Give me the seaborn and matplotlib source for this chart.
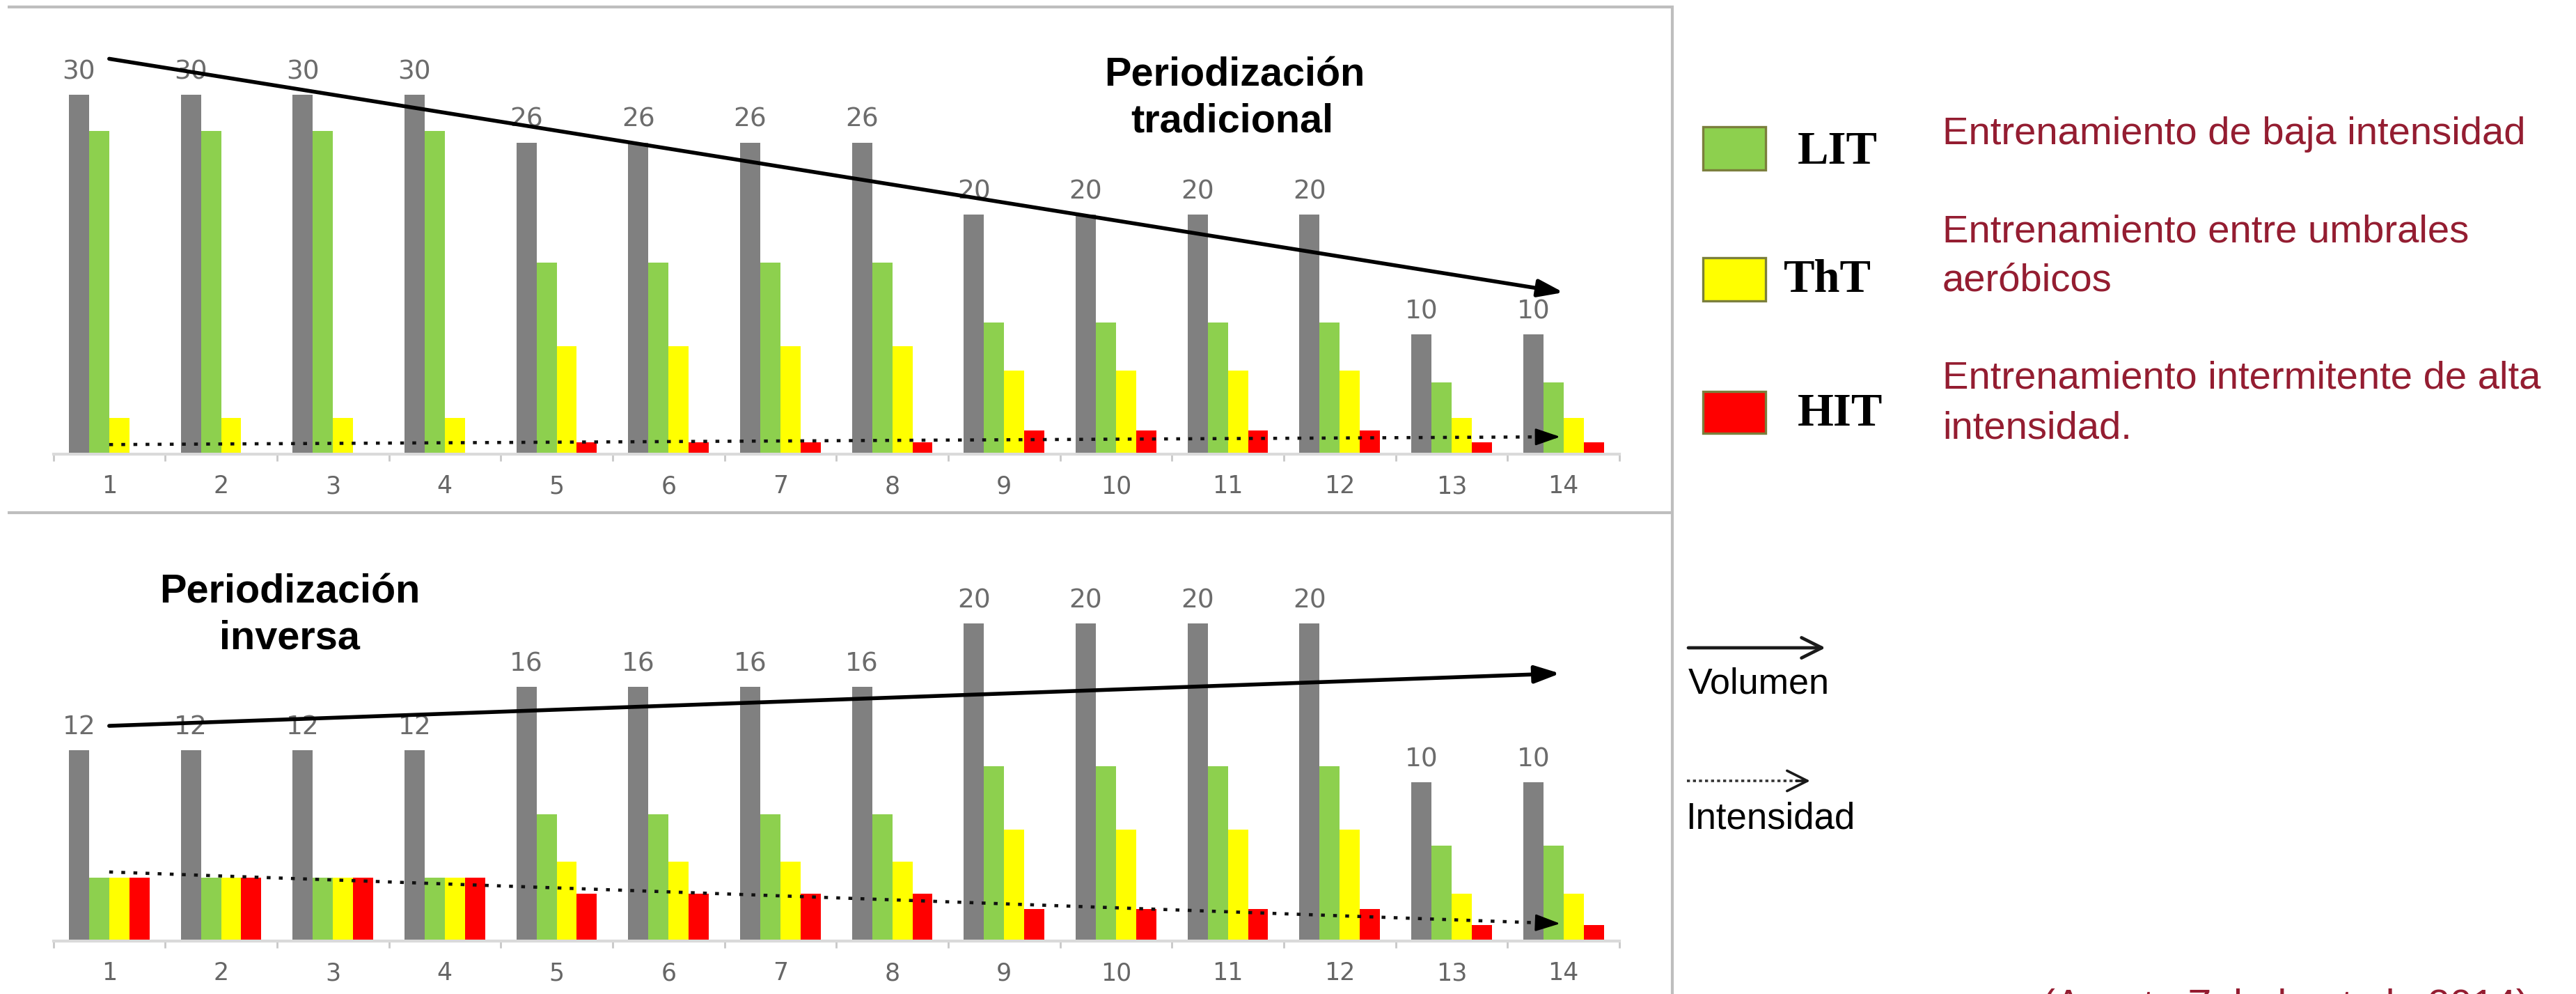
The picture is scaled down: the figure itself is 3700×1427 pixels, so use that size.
import numpy as np
import pandas as pd
import matplotlib
matplotlib.use("Agg")
import matplotlib.pyplot as plt
from matplotlib.patches import Rectangle
import seaborn as sns

# ---------------------------------------------------------------- data
weeks = list(range(1, 15))
series_order = ["Total", "LIT", "ThT", "HIT"]
series_colors = ["#808080", "#8DD04E", "#FFFF00", "#FF0000"]

# Periodización tradicional
trad_total = [30, 30, 30, 30, 26, 26, 26, 26, 20, 20, 20, 20, 10, 10]
trad_lit = [27, 27, 27, 27, 16, 16, 16, 16, 11, 11, 11, 11, 6, 6]
trad_tht = [3, 3, 3, 3, 9, 9, 9, 9, 7, 7, 7, 7, 3, 3]
trad_hit = [0, 0, 0, 0, 1, 1, 1, 1, 2, 2, 2, 2, 1, 1]

# Periodización inversa
inv_total = [12, 12, 12, 12, 16, 16, 16, 16, 20, 20, 20, 20, 10, 10]
inv_lit = [4, 4, 4, 4, 8, 8, 8, 8, 11, 11, 11, 11, 6, 6]
inv_tht = [4, 4, 4, 4, 5, 5, 5, 5, 7, 7, 7, 7, 3, 3]
inv_hit = [4, 4, 4, 4, 3, 3, 3, 3, 2, 2, 2, 2, 1, 1]

# trend arrows: (week index start, value start, week index end, value end)
trad_volume_trend = (0, 33.0, 13, 13.5)
trad_intensity_trend = (0, 0.8, 12.97, 1.45)
inv_volume_trend = (0, 13.55, 12.97, 16.85)
inv_intensity_trend = (0, 4.35, 12.97, 1.1)

legend_codes = ["LIT", "ThT", "HIT"]
legend_texts = [
    ["Entrenamiento de baja intensidad"],
    ["Entrenamiento entre umbrales", "aeróbicos"],
    ["Entrenamiento intermitente de alta", "intensidad."],
]
source_text = "(Acosta Zabala et al., 2014)"

# ---------------------------------------------------------------- style
sns.set_theme(style="white")
plt.rcParams["font.family"] = ["DejaVu Sans"]

W, H = 3700, 1427
fig = plt.figure(figsize=(W / 100, H / 100), dpi=100)
fig.patch.set_facecolor("white")

SANS = "Liberation Sans"
SERIF = "Liberation Serif"
DARK_RED = "#941D31"
LABEL_GRAY = "#6C6C6C"


def px_axes(left, top, right, bottom, **kw):
    return fig.add_axes([left / W, 1 - bottom / H, (right - left) / W, (bottom - top) / H], **kw)


def long_table(total, lit, tht, hit):
    parts = []
    for name, vals in zip(series_order, [total, lit, tht, hit]):
        parts.append(pd.DataFrame({"semana": weeks, "serie": name, "valor": vals}))
    return pd.concat(parts, ignore_index=True)


def draw_trend(ax, spec, dotted):
    x0, y0, x1, y1 = spec
    head = "-|>,head_length=1.1,head_width=0.38"
    if dotted:
        ax.plot([x0, x1], [y0, y1], color="#111111", lw=3.3,
                ls=(0, (1.2, 2.6)), zorder=6, clip_on=False)
        frac = 0.12 / (x1 - x0)
        ax.annotate("", xy=(x1, y1), xytext=(x1 - (x1 - x0) * frac, y1 - (y1 - y0) * frac),
                    arrowprops=dict(arrowstyle=head, color="black", lw=2.0,
                                    mutation_scale=20, shrinkA=0, shrinkB=0),
                    zorder=7, annotation_clip=False)
    else:
        ax.annotate("", xy=(x1, y1), xytext=(x0, y0),
                    arrowprops=dict(arrowstyle=head, color="black", lw=4.0,
                                    mutation_scale=20, shrinkA=0, shrinkB=0),
                    zorder=7, annotation_clip=False)


def draw_panel(ax, table, ymax, vol_trend, int_trend):
    sns.barplot(data=table, x="semana", y="valor", hue="serie",
                hue_order=series_order, palette=series_colors,
                width=0.72, saturation=1, linewidth=0, errorbar=None,
                legend=False, ax=ax)
    ax.set_xlim(-0.5, 13.5)
    ax.set_ylim(0, ymax)
    ax.set_xlabel("")
    ax.set_ylabel("")
    ax.set_yticks([])
    ax.patch.set_alpha(0)
    for side in ("left", "top", "right"):
        ax.spines[side].set_visible(False)
    ax.spines["bottom"].set_color("#DADADA")
    ax.spines["bottom"].set_linewidth(3)
    ax.set_xticks(np.arange(-0.5, 14, 1), minor=True)
    ax.tick_params(axis="x", which="minor", length=7, width=2, color="#C8C8C8",
                   direction="out", bottom=True)
    ax.tick_params(axis="x", which="major", length=0, pad=21,
                   labelsize=25, labelcolor="#666666")
    for lab in ax.get_xticklabels():
        lab.set_fontfamily("DejaVu Sans")

    # volume labels above the grey bars
    vol_bars = max(ax.containers, key=lambda c: sum(p.get_height() for p in c))
    for bar in vol_bars:
        h = bar.get_height()
        ax.annotate(f"{h:.0f}", (bar.get_x() + bar.get_width() / 2, h),
                    xytext=(0, 16.5), textcoords="offset points",
                    ha="center", va="baseline", fontsize=27,
                    color=LABEL_GRAY, family="DejaVu Sans")

    draw_trend(ax, vol_trend, dotted=False)
    draw_trend(ax, int_trend, dotted=True)


# ---------------------------------------------------------------- panels
top_ymax, bot_ymax = 36, 26
ax_top = px_axes(76.5, 652 - top_ymax * 17.2, 2326, 652)
ax_bot = px_axes(76.5, 1351 - bot_ymax * 22.8, 2326, 1351)

draw_panel(ax_top, long_table(trad_total, trad_lit, trad_tht, trad_hit),
           top_ymax, trad_volume_trend, trad_intensity_trend)
draw_panel(ax_bot, long_table(inv_total, inv_lit, inv_tht, inv_hit),
           bot_ymax, inv_volume_trend, inv_intensity_trend)

# ---------------------------------------------------------------- overlay in pixel units
ov = fig.add_axes([0, 0, 1, 1], zorder=10)
ov.set_xlim(0, W)
ov.set_ylim(H, 0)
ov.axis("off")
ov.patch.set_alpha(0)

frame_kw = dict(color="#BEBEBE", lw=3, solid_capstyle="butt")
ov.plot([11, 2404], [10, 10], **frame_kw)
ov.plot([11, 2404], [736, 736], **frame_kw)
ov.plot([2402, 2402], [8, H], **frame_kw)

title_kw = dict(ha="center", va="baseline", fontsize=41.5, fontweight="bold",
                family=SANS, color="black")
ov.text(1773, 124, "Periodización", **title_kw)
ov.text(1770, 190, "tradicional", **title_kw)
ov.text(416, 865, "Periodización", **title_kw)
ov.text(416, 931, "inversa", **title_kw)

# colour key
swatch_boxes = [(182, 62), (370, 62), (562, 60)]
code_pos = [(2582, 235), (2562, 419), (2582, 611)]
text_baselines = [[207], [347, 418], [558, 629]]
for color, (y, h), code, (cx, cy), lines, bases in zip(
        series_colors[1:], swatch_boxes, legend_codes, code_pos, legend_texts, text_baselines):
    ov.add_patch(Rectangle((2446, y), 90, h, facecolor=color,
                           edgecolor="#7B7F3C", lw=2.4))
    ov.text(cx, cy, code, ha="left", va="baseline", fontsize=48,
            fontweight="bold", family=SERIF, color="black")
    for line, b in zip(lines, bases):
        ov.text(2790, b, line, ha="left", va="baseline", fontsize=40.5,
                family=SANS, color=DARK_RED)

# line key
ov.annotate("", xy=(2622, 930), xytext=(2425, 930),
            arrowprops=dict(arrowstyle="->,head_length=0.7,head_width=0.35",
                            color="#1A1A1A", lw=3.4, mutation_scale=30,
                            shrinkA=0, shrinkB=0))
ov.text(2425, 996, "Volumen", ha="left", va="baseline", fontsize=37.5,
        family=SANS, color="black")
ov.plot([2423, 2592], [1121, 1121], color="#333333", lw=2.6, ls=(0, (1.2, 1.2)))
ov.annotate("", xy=(2600, 1121), xytext=(2580, 1121),
            arrowprops=dict(arrowstyle="->,head_length=0.7,head_width=0.35",
                            color="#1A1A1A", lw=2.6, mutation_scale=30,
                            shrinkA=0, shrinkB=0))
ov.text(2421, 1189, "Intensidad", ha="left", va="baseline", fontsize=38,
        family=SANS, color="black")

ov.text(2933, 1461, source_text, ha="left", va="baseline", fontsize=41,
        family=SANS, color=DARK_RED, clip_on=False)

fig.savefig("out.png", dpi=100, facecolor="white")
